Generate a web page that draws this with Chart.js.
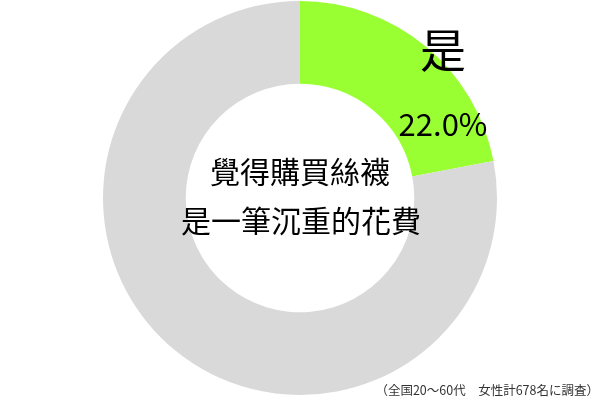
<!DOCTYPE html>
<html>
<head>
<meta charset="utf-8">
<script src="https://cdn.jsdelivr.net/npm/chart.js@4.4.0/dist/chart.umd.min.js"></script>
<style>
  html, body { margin: 0; padding: 0; background: #ffffff; }
  #wrap { position: relative; width: 600px; height: 400px; }
  canvas { display: block; }
</style>
</head>
<body>
<div id="wrap"><canvas id="c" width="600" height="400"></canvas></div>
<script>
const categories = ['是', '否'];
const values = [22.0, 78.0];
const colors = ['#99ff33', '#d9d9d9'];
const centerLines = ['覺得購買絲襪', '是一筆沉重的花費'];
const note = '（全国20～60代　女性計678名に調査）';

const textPlugin = {
  id: 'texts',
  afterDraw(chart) {
    const ctx = chart.ctx;
    const meta = chart.getDatasetMeta(0);
    const arc = meta.data[0];
    const cx = arc.x, cy = arc.y;
    ctx.save();
    ctx.fillStyle = '#000';
    ctx.textAlign = 'center';
    ctx.textBaseline = 'middle';
    ctx.font = '30px "Noto Sans CJK TC"';
    ctx.fillText(centerLines[0], cx, cy - 26);
    ctx.fillText(centerLines[1], cx + 1, cy + 23);
    ctx.font = '46px "Noto Sans CJK TC"';
    ctx.fillText(categories[0], cx + 143, cy - 148);
    ctx.font = '31px "Noto Sans CJK TC"';
    ctx.fillText(values[0].toFixed(1) + '%', cx + 143, cy - 74);
    ctx.font = '12.5px "Noto Sans CJK JP"';
    ctx.fillStyle = '#333';
    ctx.textAlign = 'right';
    ctx.fillText(note, 599, 390);
    ctx.restore();
  }
};

new Chart(document.getElementById('c'), {
  type: 'doughnut',
  data: {
    labels: categories,
    datasets: [{
      data: values,
      backgroundColor: colors,
      borderWidth: 0,
      hoverOffset: 0
    }]
  },
  options: {
    responsive: false,
    devicePixelRatio: 1,
    animation: false,
    cutout: '58%',
    layout: { padding: { top: 1, bottom: 5, left: 0, right: 0 } },
    plugins: { legend: { display: false }, tooltip: { enabled: false } }
  },
  plugins: [textPlugin]
});
</script>
</body>
</html>
